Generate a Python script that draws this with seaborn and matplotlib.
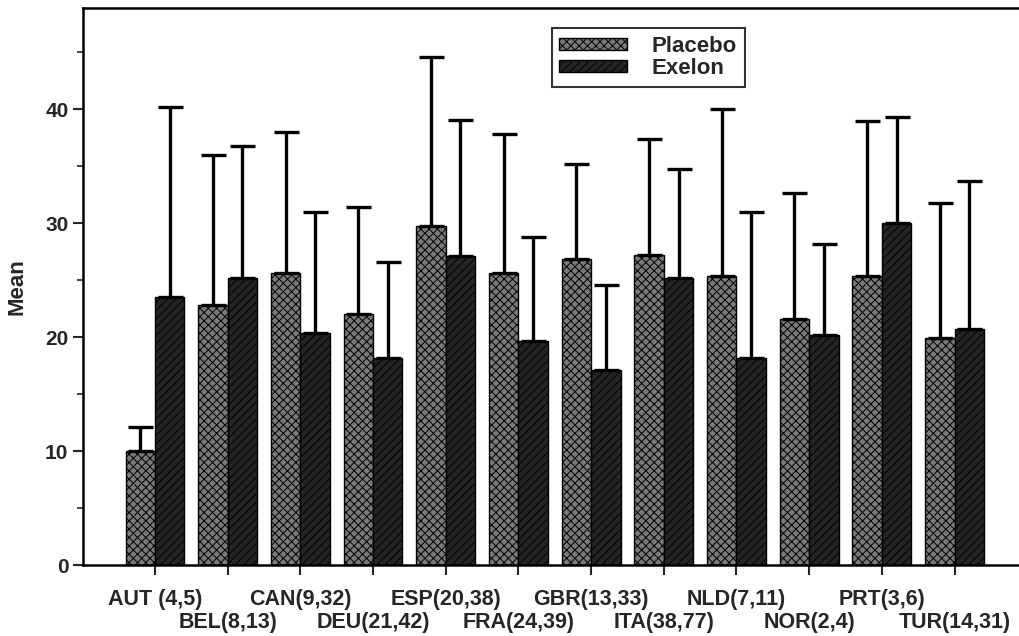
import numpy as np
import pandas as pd
import matplotlib
matplotlib.use("Agg")
import matplotlib.pyplot as plt
import seaborn as sns
from matplotlib.patches import Patch

countries = ["AUT (4,5)", "BEL(8,13)", "CAN(9,32)", "DEU(21,42)", "ESP(20,38)", "FRA(24,39)",
             "GBR(13,33)", "ITA(38,77)", "NLD(7,11)", "NOR(2,4)", "PRT(3,6)", "TUR(14,31)"]
placebo_mean = [10.0, 22.8, 25.6, 22.0, 29.8, 25.6, 26.9, 27.2, 25.4, 21.6, 25.4, 19.9]
placebo_upper = [12.1, 36.0, 38.0, 31.4, 44.6, 37.8, 35.2, 37.4, 40.0, 32.7, 39.0, 31.8]
exelon_mean = [23.5, 25.2, 20.4, 18.2, 27.1, 19.7, 17.1, 25.2, 18.2, 20.2, 30.0, 20.7]
exelon_upper = [40.2, 36.8, 31.0, 26.6, 39.1, 28.8, 24.6, 34.8, 31.0, 28.2, 39.3, 33.7]
groups = ["Placebo", "Exelon"]

df = pd.DataFrame({
    "country": countries * 2,
    "group": ["Placebo"] * len(countries) + ["Exelon"] * len(countries),
    "mean": placebo_mean + exelon_mean,
})

sns.set_theme(style="ticks")
plt.rcParams["font.family"] = ["Liberation Sans", "DejaVu Sans"]
plt.rcParams["hatch.color"] = "#111111"
plt.rcParams["hatch.linewidth"] = 0.7

fig = plt.figure(figsize=(10.19, 6.36), dpi=100)
ax = fig.add_axes([0.0815, 0.1116, 0.918, 0.8758])

colors = {"Placebo": "#7a7a7a", "Exelon": "#242424"}
hatches = {"Placebo": "xxxx", "Exelon": "////"}
sns.barplot(data=df, x="country", y="mean", hue="group", hue_order=groups,
            palette=colors, width=0.81, gap=0, errorbar=None, ax=ax,
            edgecolor="black", linewidth=1.0, saturation=1, legend=False)

n = len(countries)
bars = list(ax.patches)
uppers = {"Placebo": placebo_upper, "Exelon": exelon_upper}
means = {"Placebo": placebo_mean, "Exelon": exelon_mean}
for gi, g in enumerate(groups):
    gbars = bars[gi * n:(gi + 1) * n]
    xs = []
    for b in gbars:
        b.set_hatch(hatches[g])
        xs.append(b.get_x() + b.get_width() / 2)
    m = np.array(means[g]); u = np.array(uppers[g])
    ax.errorbar(xs, m, yerr=[np.zeros(n), u - m], fmt="none", ecolor="black",
                elinewidth=2.4, capsize=9, capthick=2.4, zorder=1)

ax.set_ylim(0, 48.9)
ax.set_xlim(-0.99, 11.88)
ax.set_yticks([0, 10, 20, 30, 40])
ax.set_yticks(np.arange(5, 48, 5), minor=True)
ax.tick_params(axis="y", which="major", length=7, width=1.5, labelsize=15, direction="out")
ax.tick_params(axis="y", which="minor", length=4, width=1.2, direction="out")
for t in ax.get_yticklabels():
    t.set_fontweight("bold")

# staggered category labels: even on first row (major), odd on second row (minor)
even = list(range(0, n, 2))
odd = list(range(1, n, 2))
ax.set_xticks(even)
ax.set_xticklabels([countries[i] for i in even], fontsize=15.5)
ax.set_xticks(odd, minor=True)
ax.set_xticklabels([countries[i] for i in odd], minor=True, fontsize=15.5)
ax.tick_params(axis="x", which="major", length=7, width=1.5, direction="out", pad=10)
ax.tick_params(axis="x", which="minor", length=7, width=1.5, direction="out", pad=27)
for t in ax.get_xticklabels() + ax.get_xticklabels(minor=True):
    t.set_fontweight("bold")
ax.set_xlabel("")
ax.set_ylabel("Mean", fontsize=16, fontweight="bold")
ax.yaxis.set_label_coords(-0.059, 0.5)
for s in ["left", "top", "bottom"]:
    ax.spines[s].set_linewidth(1.8)
    ax.spines[s].set_color("black")
ax.spines["right"].set_visible(False)

handles = [Patch(facecolor=colors[g], edgecolor="black", hatch=hatches[g]) for g in groups]
leg = ax.legend(handles, groups, loc="upper left", bbox_to_anchor=(0.501, 0.964),
                prop={"size": 16, "weight": "bold"}, frameon=True, fancybox=False,
                handlelength=3.05, handleheight=0.5, borderpad=0.35, labelspacing=0.05,
                handletextpad=1.1, borderaxespad=0)
leg.get_frame().set_edgecolor("black")
leg.get_frame().set_linewidth(1.5)

fig.savefig("out.png", dpi=100)
